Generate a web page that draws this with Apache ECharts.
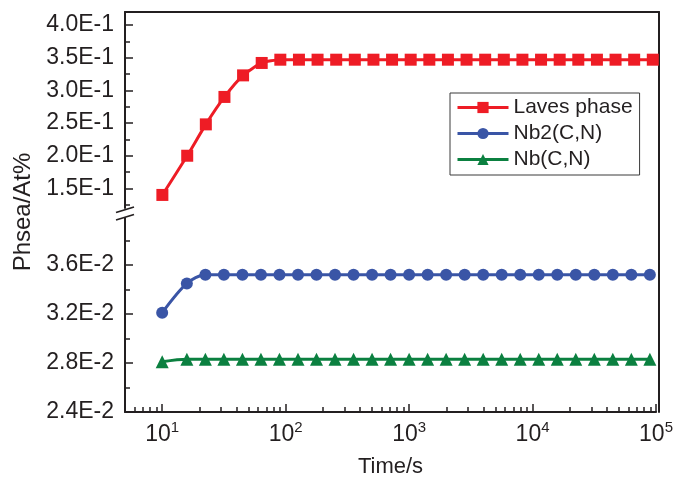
<!DOCTYPE html>
<html>
<head>
<meta charset="utf-8">
<title>Phase fraction vs time</title>
<script src="https://cdn.jsdelivr.net/npm/echarts@6/dist/echarts.min.js"></script>
<style>
  html, body { margin: 0; padding: 0; background: #ffffff; }
  #chart { width: 676px; height: 485px; }
</style>
</head>
<body>
<div id="chart"></div>
<script>
// Sampling times (s), evenly spaced on a log scale after the first step
const times = [10, 15.85, 22.39, 31.62, 44.67, 63.10, 89.13, 125.9, 177.8, 251.2,
  354.8, 501.2, 707.9, 1000, 1413, 1995, 2818, 3981, 5623, 7943,
  11220, 15849, 22387, 31623, 44668, 63096, 89125];

// Phase fractions (at%)
const lavesPhase = [0.140, 0.200, 0.248, 0.290, 0.323, 0.342, 0.347, 0.347, 0.347, 0.347,
  0.347, 0.347, 0.347, 0.347, 0.347, 0.347, 0.347, 0.347, 0.347, 0.347,
  0.347, 0.347, 0.347, 0.347, 0.347, 0.347, 0.347];
const nb2CN = [0.0321, 0.0345, 0.0352, 0.0352, 0.0352, 0.0352, 0.0352, 0.0352, 0.0352, 0.0352,
  0.0352, 0.0352, 0.0352, 0.0352, 0.0352, 0.0352, 0.0352, 0.0352, 0.0352, 0.0352,
  0.0352, 0.0352, 0.0352, 0.0352, 0.0352, 0.0352, 0.0352];
const nbCN = [0.0281, 0.0283, 0.0283, 0.0283, 0.0283, 0.0283, 0.0283, 0.0283, 0.0283, 0.0283,
  0.0283, 0.0283, 0.0283, 0.0283, 0.0283, 0.0283, 0.0283, 0.0283, 0.0283, 0.0283,
  0.0283, 0.0283, 0.0283, 0.0283, 0.0283, 0.0283, 0.0283];

// Tick values for the broken y axis (upper and lower segments)
const upperTicks = [0.15, 0.20, 0.25, 0.30, 0.35, 0.40];
const upperMinorTicks = [0.125, 0.175, 0.225, 0.275, 0.325, 0.375];
const lowerTicks = [0.024, 0.028, 0.032, 0.036];
const lowerMinorTicks = [0.026, 0.030, 0.034, 0.038];

// Minor ticks of the logarithmic time axis
const timeMinorTicks = [6, 7, 8, 9,
  20, 30, 40, 50, 60, 70, 80, 90,
  200, 300, 400, 500, 600, 700, 800, 900,
  2000, 3000, 4000, 5000, 6000, 7000, 8000, 9000,
  20000, 30000, 40000, 50000, 60000, 70000, 80000, 90000];

const seriesNames = ['Laves phase', 'Nb2(C,N)', 'Nb(C,N)'];
const seriesColors = ['#ee1c25', '#3a55a6', '#0b8040'];

const FONT = '"Liberation Sans", Arial, Helvetica, sans-serif';
const INK = '#231f20';
const TIME_MIN = 5, TIME_MAX = 100000;

const chart = echarts.init(document.getElementById('chart'), null, { renderer: 'canvas' });

const expLabel = v => v.toExponential(1).toUpperCase();
const lineAxis = { show: true, onZero: false, lineStyle: { color: INK, width: 2 } };
const majorTick = { show: true, inside: true, length: 8, lineStyle: { color: INK, width: 1.5 } };
const minorTick = { show: true, inside: true, length: 5, lineStyle: { color: INK, width: 1.5 } };
const tickLabel = { show: true, fontFamily: FONT, fontSize: 23, color: INK, margin: 11 };
const hidden = { show: false };

const pairs = vals => times.map((t, i) => [t, vals[i]]);

const option = {
  animation: false,
  backgroundColor: '#ffffff',
  grid: [
    { left: 125, top: 12, width: 534, height: 196 },   // upper segment
    { left: 125, top: 218, width: 534, height: 194 },  // lower segment
    { left: 125, top: 12, width: 534, height: 400 }    // full frame
  ],
  xAxis: [
    { gridIndex: 0, type: 'log', logBase: 10, min: TIME_MIN, max: TIME_MAX,
      axisLine: hidden, axisTick: hidden, axisLabel: hidden, splitLine: hidden },
    { gridIndex: 1, type: 'log', logBase: 10, min: TIME_MIN, max: TIME_MAX, position: 'bottom',
      axisLine: lineAxis, axisTick: majorTick, splitLine: hidden,
      axisLabel: {
        show: true, margin: 8,
        formatter: v => {
          const e = Math.round(Math.log10(v));
          if (Math.abs(Math.log10(v) - e) > 1e-6) return '';
          return '{b|10}{s|' + e + '}';
        },
        rich: {
          b: { fontFamily: FONT, fontSize: 23, color: INK, lineHeight: 26, verticalAlign: 'bottom' },
          s: { fontFamily: FONT, fontSize: 15, color: INK, lineHeight: 15, verticalAlign: 'top' }
        }
      },
      name: 'Time/s', nameLocation: 'middle', nameGap: 44,
      nameTextStyle: { fontFamily: FONT, fontSize: 22, color: INK } },
    { gridIndex: 1, type: 'value', position: 'bottom',
      min: Math.log10(TIME_MIN), max: Math.log10(TIME_MAX),
      axisLine: hidden, splitLine: hidden, axisLabel: { show: false },
      axisTick: Object.assign({ customValues: timeMinorTicks.map(t => Math.log10(t)) }, minorTick) },
    { gridIndex: 2, type: 'value', position: 'top', min: 0, max: 1,
      axisLine: lineAxis, axisTick: hidden, axisLabel: hidden, splitLine: hidden }
  ],
  yAxis: [
    { gridIndex: 0, type: 'value', min: 0.12, max: 0.42, position: 'left',
      axisLine: lineAxis, splitLine: hidden,
      axisTick: Object.assign({ customValues: upperTicks }, majorTick),
      axisLabel: Object.assign({ customValues: upperTicks, formatter: expLabel }, tickLabel) },
    { gridIndex: 0, type: 'value', min: 0.12, max: 0.42, position: 'left',
      axisLine: hidden, splitLine: hidden, axisLabel: { show: false },
      axisTick: Object.assign({ customValues: upperMinorTicks }, minorTick) },
    { gridIndex: 1, type: 'value', min: 0.024, max: 0.03984, position: 'left',
      axisLine: lineAxis, splitLine: hidden,
      axisTick: Object.assign({ customValues: lowerTicks }, majorTick),
      axisLabel: Object.assign({ customValues: lowerTicks, formatter: expLabel }, tickLabel) },
    { gridIndex: 1, type: 'value', min: 0.024, max: 0.03984, position: 'left',
      axisLine: hidden, splitLine: hidden, axisLabel: { show: false },
      axisTick: Object.assign({ customValues: lowerMinorTicks }, minorTick) },
    { gridIndex: 2, type: 'value', min: 0, max: 1, position: 'right',
      axisLine: lineAxis, axisTick: hidden, axisLabel: hidden, splitLine: hidden },
    { gridIndex: 2, type: 'value', min: 0, max: 1, position: 'left',
      axisLine: hidden, axisTick: hidden, axisLabel: hidden, splitLine: hidden,
      name: 'Phsea/At%', nameLocation: 'middle', nameGap: 90,
      nameTextStyle: { fontFamily: FONT, fontSize: 24, color: INK } }
  ],
  legend: {
    orient: 'vertical', left: 450, top: 93,
    backgroundColor: '#ffffff', borderColor: '#3a3a3a', borderWidth: 1,
    padding: [4, 7, 5, 6], itemWidth: 51, itemHeight: 14, itemGap: 5,
    lineStyle: { width: 3 },
    textStyle: { fontFamily: FONT, fontSize: 21, color: INK },
    data: seriesNames
  },
  series: [
    { name: seriesNames[0], type: 'line', xAxisIndex: 0, yAxisIndex: 0,
      data: pairs(lavesPhase), smooth: 0.2, symbol: 'rect', symbolSize: 12,
      lineStyle: { color: seriesColors[0], width: 3 }, itemStyle: { color: seriesColors[0] } },
    { name: seriesNames[1], type: 'line', xAxisIndex: 1, yAxisIndex: 2,
      data: pairs(nb2CN), smooth: 0.3, symbol: 'circle', symbolSize: 12,
      lineStyle: { color: seriesColors[1], width: 3 }, itemStyle: { color: seriesColors[1] } },
    { name: seriesNames[2], type: 'line', xAxisIndex: 1, yAxisIndex: 2,
      data: pairs(nbCN), smooth: 0.3, symbol: 'triangle', symbolSize: 13,
      lineStyle: { color: seriesColors[2], width: 3 }, itemStyle: { color: seriesColors[2] } }
  ],
  graphic: [
    // axis break marks on the left axis
    { type: 'line', z: 100, shape: { x1: 116, y1: 212.5, x2: 134, y2: 207 },
      style: { stroke: INK, lineWidth: 1.8 } },
    { type: 'line', z: 100, shape: { x1: 116, y1: 220, x2: 134, y2: 214.5 },
      style: { stroke: INK, lineWidth: 1.8 } }
  ]
};

chart.setOption(option);
</script>
</body>
</html>
